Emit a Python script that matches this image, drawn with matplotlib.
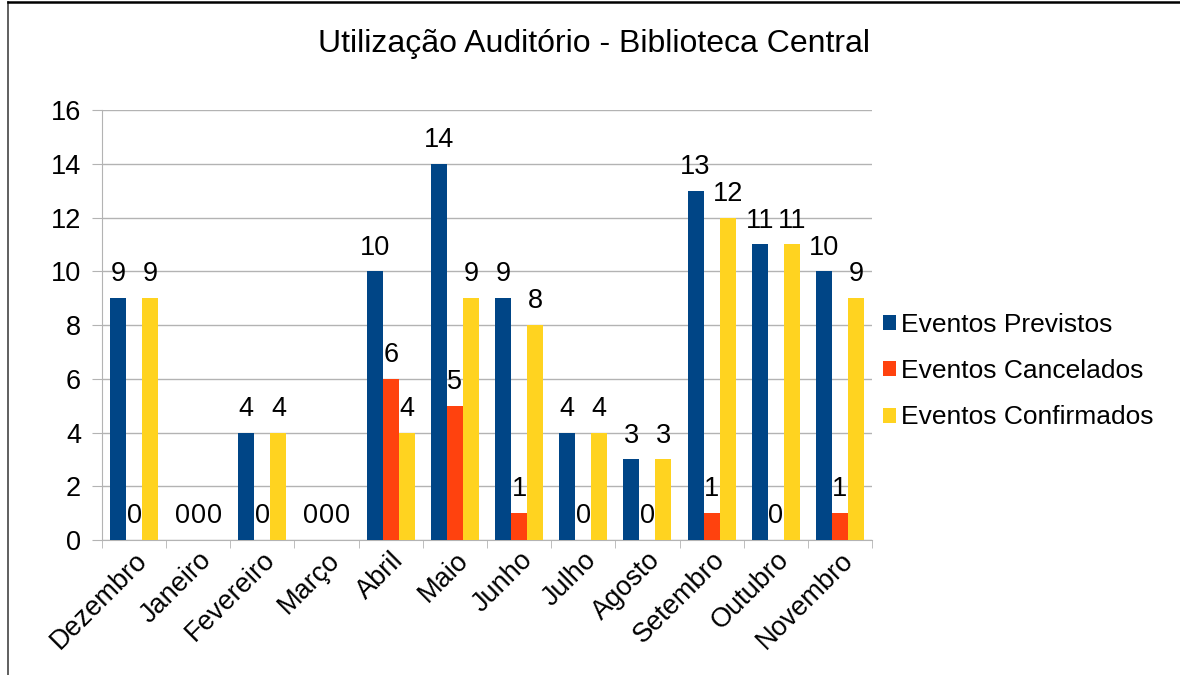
import numpy as np
import matplotlib.pyplot as plt
from matplotlib.lines import Line2D

plt.rcParams['font.family'] = ['Liberation Sans', 'DejaVu Sans']

# Dados
meses = ['Dezembro', 'Janeiro', 'Fevereiro', 'Março', 'Abril', 'Maio',
         'Junho', 'Julho', 'Agosto', 'Setembro', 'Outubro', 'Novembro']
previstos = [9, 0, 4, 0, 10, 14, 9, 4, 3, 13, 11, 10]
cancelados = [0, 0, 0, 0, 6, 5, 1, 0, 0, 1, 0, 1]
confirmados = [9, 0, 4, 0, 4, 9, 8, 4, 3, 12, 11, 9]
series = ['Eventos Previstos', 'Eventos Cancelados', 'Eventos Confirmados']
cores = ['#004586', '#ff420e', '#ffd320']

fig = plt.figure(figsize=(11.8, 6.75), dpi=100)
ax = fig.add_axes([0.0864, 0.2, 0.6526, 0.637])

x = np.arange(len(meses))
w = 0.25
grid_c = '#b3b3b3'

for i, (vals, nome, cor) in enumerate(zip([previstos, cancelados, confirmados], series, cores)):
    bars = ax.bar(x + (i - 1) * w, vals, w, color=cor, label=nome, zorder=3)
    for b, v in zip(bars, vals):
        ax.annotate(str(v), (b.get_x() + b.get_width() / 2, v),
                    xytext=(0, 12), textcoords='offset points',
                    ha='center', va='baseline', fontsize=19.5, zorder=4)

ax.set_xlim(-0.5, len(meses) - 0.5)
ax.set_ylim(0, 16)
ax.set_yticks(range(0, 17, 2))
ax.yaxis.grid(True, color=grid_c, linewidth=1, zorder=0)
ax.tick_params(axis='y', labelsize=19.5, length=7, color=grid_c, pad=8)

ax.set_xticks(x)
ax.set_xticklabels(meses, rotation=45, ha='right', va='top', rotation_mode='anchor', fontsize=19.5)
ax.tick_params(axis='x', which='major', length=0, pad=5)
ax.set_xticks(np.arange(-0.5, len(meses), 1), minor=True)
ax.tick_params(axis='x', which='minor', length=6, color=grid_c)

for s in ['top', 'right']:
    ax.spines[s].set_visible(False)
for s in ['left', 'bottom']:
    ax.spines[s].set_color(grid_c)

fig.suptitle('Utilização Auditório - Biblioteca Central', fontsize=23, x=0.503, y=0.957)

ax.legend(loc='center left', bbox_to_anchor=(1.0, 0.393), frameon=False, fontsize=19,
          handlelength=0.5, handleheight=0.5, handletextpad=0.2, labelspacing=0.85,
          borderaxespad=0.0)

# moldura
fig.add_artist(Line2D([0.0068, 0.0068], [0, 0.997], color='#444444', linewidth=1.2))
fig.add_artist(Line2D([0.0068, 1], [0.997, 0.997], color='black', linewidth=1.8))

fig.savefig('out.png', dpi=100)
